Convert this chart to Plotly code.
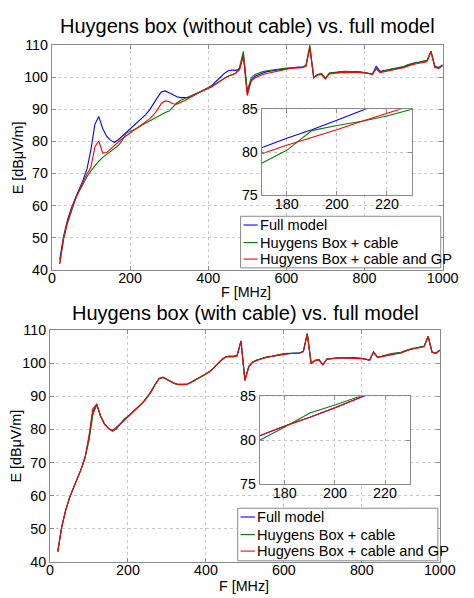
import plotly.graph_objects as go

# Frequency grid (MHz) shared by every series
freq_mhz = list(range(20, 1001, 10))

# Full model field strength, dBuV/m
full_model = [
    43.2, 50.5, 55.5, 59.3, 62.3, 65.0, 68.0, 71.5, 77.5, 85.3,
    87.7, 84.0, 81.6, 80.3, 79.7, 80.5, 81.6, 82.6, 83.7, 84.8,
    85.9, 87.0, 88.3, 89.8, 91.5, 93.6, 95.4, 95.7, 95.1, 94.4,
    93.9, 93.6, 93.5, 93.6, 94.1, 94.7, 95.3, 96.0, 96.7, 97.5,
    98.5, 99.8, 101.0, 101.9, 102.2, 102.1, 102.4, 106.8, 95.0, 99.0,
    100.3, 100.9, 101.3, 101.7, 101.9, 102.1, 102.4, 102.6, 102.8, 102.9,
    103.0, 103.1, 103.1, 103.6, 109.0, 99.9, 100.8, 101.1, 99.6, 101.2,
    101.4, 101.5, 101.6, 101.6, 101.7, 101.7, 101.7, 101.6, 101.5, 101.2,
    100.9, 103.4, 101.8, 102.0, 102.3, 102.6, 102.8, 103.0, 103.1, 103.6,
    104.1, 104.4, 104.6, 104.8, 105.1, 108.1, 103.4, 103.0, 103.9,
]

# Huygens box without cable: box + cable
nocable_box_cable = [
    41.8, 49.5, 54.5, 58.5, 61.8, 64.5, 66.8, 69.0, 70.8, 72.4,
    73.8, 75.0, 76.0, 76.8, 77.8, 78.7, 80.2, 82.5, 83.1, 83.6,
    84.2, 85.0, 85.7, 86.4, 87.1, 87.8, 88.5, 89.0, 89.4, 90.7,
    92.0, 92.8, 93.3, 94.0, 94.5, 95.0, 95.5, 96.1, 96.6, 97.3,
    98.0, 98.8, 99.6, 100.3, 100.7, 101.2, 103.0, 108.0, 95.8, 99.8,
    100.8, 101.3, 101.7, 102.0, 102.2, 102.4, 102.5, 102.7, 102.8, 102.9,
    103.0, 103.0, 103.0, 103.5, 110.0, 99.9, 100.8, 101.0, 99.6, 101.3,
    101.5, 101.6, 101.7, 101.8, 101.8, 101.8, 101.7, 101.6, 101.4, 101.1,
    100.9, 102.8, 101.6, 101.9, 102.3, 102.6, 102.8, 103.0, 103.3, 103.8,
    104.2, 104.5, 104.7, 104.9, 105.2, 108.0, 103.2, 102.8, 103.6,
]

# Huygens box without cable: box + cable and ground plane
nocable_box_cable_gp = [
    41.9, 50.0, 55.0, 59.0, 62.0, 64.8, 67.4, 69.8, 72.0, 78.3,
    80.1, 76.4, 76.5, 77.6, 78.8, 79.8, 80.8, 81.7, 82.6, 83.6,
    84.5, 85.4, 86.2, 87.0, 88.2, 89.8, 91.8, 92.6, 92.3, 91.7,
    91.6, 92.1, 92.7, 93.4, 94.1, 94.8, 95.4, 95.9, 96.4, 97.0,
    97.8, 98.7, 99.5, 100.2, 100.7, 101.1, 102.2, 106.6, 94.2, 98.8,
    99.8, 100.4, 100.8, 101.1, 101.4, 101.7, 102.0, 102.3, 102.5, 102.7,
    102.8, 102.8, 102.9, 103.3, 109.4, 99.8, 100.6, 100.8, 99.4, 101.0,
    101.2, 101.3, 101.4, 101.4, 101.5, 101.5, 101.5, 101.4, 101.3, 101.1,
    100.8, 102.6, 101.4, 101.7, 102.0, 102.3, 102.5, 102.7, 102.9, 103.4,
    103.8, 104.1, 104.3, 104.5, 104.8, 107.9, 103.0, 102.7, 103.5,
]

# Huygens box with cable: box + cable
cable_box_cable = [
    43.0, 50.3, 55.3, 59.2, 62.2, 65.0, 68.0, 71.5, 76.5, 84.4,
    87.4, 84.0, 81.6, 80.4, 79.4, 80.0, 81.5, 83.1, 84.0, 85.0,
    86.0, 87.1, 88.4, 89.9, 91.6, 93.7, 95.3, 95.7, 95.1, 94.3,
    93.8, 93.5, 93.5, 93.6, 94.2, 94.8, 95.4, 96.1, 96.8, 97.6,
    98.6, 99.9, 101.1, 101.9, 102.1, 102.0, 102.3, 106.7, 94.8, 99.0,
    100.4, 101.0, 101.4, 101.8, 102.0, 102.2, 102.5, 102.7, 102.9, 103.0,
    103.1, 103.1, 103.1, 103.6, 108.9, 100.0, 100.9, 101.1, 99.6, 101.3,
    101.5, 101.6, 101.7, 101.7, 101.7, 101.7, 101.7, 101.6, 101.5, 101.3,
    101.0, 103.3, 101.9, 102.1, 102.5, 102.8, 103.0, 103.2, 103.3, 103.8,
    104.2, 104.5, 104.7, 104.9, 105.2, 108.2, 103.4, 103.1, 104.0,
]

# Huygens box with cable: box + cable and ground plane
cable_box_cable_gp = [
    43.0, 50.5, 55.5, 59.3, 62.3, 65.0, 68.0, 71.5, 78.0, 86.3,
    87.6, 84.0, 81.6, 80.3, 79.6, 80.5, 81.6, 82.6, 83.7, 84.8,
    85.9, 87.0, 88.3, 89.8, 91.5, 93.6, 95.4, 95.8, 95.1, 94.4,
    93.9, 93.6, 93.5, 93.6, 94.1, 94.7, 95.3, 96.0, 96.7, 97.5,
    98.5, 99.8, 101.0, 101.8, 102.0, 101.9, 102.2, 106.6, 94.7, 98.9,
    100.3, 100.9, 101.3, 101.7, 101.9, 102.1, 102.4, 102.6, 102.8, 102.9,
    103.0, 103.0, 103.0, 103.5, 108.9, 99.8, 100.8, 101.0, 99.5, 101.2,
    101.4, 101.5, 101.6, 101.6, 101.6, 101.6, 101.6, 101.5, 101.4, 101.2,
    100.9, 103.4, 101.8, 102.0, 102.3, 102.6, 102.8, 103.0, 103.1, 103.6,
    104.0, 104.3, 104.5, 104.7, 105.0, 108.2, 103.3, 103.0, 103.9,
]

series_names = ["Full model", "Huygens Box + cable", "Hugyens Box + cable and GP"]
series_colors = ["#0000ff", "#008000", "#ff0000"]
panel_titles = ["Huygens box (without cable) vs. full model",
                "Huygens box (with cable) vs. full model"]
x_label = "F [MHz]"
y_label = "E [dB\u03bcV/m]"

W, H = 474, 598
FONT = "Liberation Sans, Arial, sans-serif"


def fx(px):
    return px / W


def fy(py):
    return 1 - py / H


fig = go.Figure()

panels = [
    # (main x, main y, inset x, inset y, series)
    ("x", "y", "x3", "y3", [full_model, nocable_box_cable, nocable_box_cable_gp]),
    ("x2", "y2", "x4", "y4", [full_model, cable_box_cable, cable_box_cable_gp]),
]
for mx, my, ix, iy, data in panels:
    for xa, ya in ((mx, my), (ix, iy)):
        for name, color, vals in zip(series_names, series_colors, data):
            fig.add_trace(go.Scatter(
                x=freq_mhz, y=vals, mode="lines", name=name,
                line=dict(color=color, width=1.1),
                xaxis=xa, yaxis=ya, showlegend=False, hoverinfo="skip",
            ))

axis_common = dict(
    showline=True, mirror="ticks", linecolor="#8a8a8a", linewidth=1,
    ticks="inside", ticklen=4, tickcolor="#8a8a8a",
    showgrid=True, gridcolor="#c8c8c8", griddash="dot", gridwidth=1,
    zeroline=False, tickfont=dict(family=FONT, size=14.3, color="black"),
)

main_x = dict(range=[0, 1000], tick0=0, dtick=200, ticklabelstandoff=-5, **axis_common)
main_y = dict(range=[40, 110], tick0=40, dtick=10, **axis_common)
inset_x = dict(range=[170, 230], tick0=180, dtick=20, ticklabelstandoff=-4, **axis_common)
inset_y = dict(range=[75, 85], tick0=75, dtick=5, **axis_common)

fig.update_layout(
    width=W, height=H,
    margin=dict(l=0, r=0, t=0, b=0),
    paper_bgcolor="white", plot_bgcolor="white",
    showlegend=False,
    xaxis=dict(domain=[fx(50), fx(458)], anchor="y", **main_x),
    yaxis=dict(domain=[fy(269), fy(38)], anchor="x", **main_y),
    xaxis2=dict(domain=[fx(48), fx(455)], anchor="y2", **main_x),
    yaxis2=dict(domain=[fy(569), fy(331)], anchor="x2", **main_y),
    xaxis3=dict(domain=[fx(269), fx(426)], anchor="y3", **inset_x),
    yaxis3=dict(domain=[fy(192), fy(104)], anchor="x3", **inset_y),
    xaxis4=dict(domain=[fx(267), fx(424)], anchor="y4", **inset_x),
    yaxis4=dict(domain=[fy(489), fy(399)], anchor="x4", **inset_y),
)

annotations = []
shapes = []

# Titles and axis labels
for title, cx, cy in ((panel_titles[0], 254, 19), (panel_titles[1], 252, 313)):
    annotations.append(dict(text=title, x=fx(cx), y=fy(cy), xref="paper", yref="paper",
                            xanchor="center", yanchor="middle", showarrow=False,
                            font=dict(family=FONT, size=20, color="black")))
for cx, cy in ((253, 292), (251, 594)):
    annotations.append(dict(text=x_label, x=fx(cx), y=fy(cy), xref="paper", yref="paper",
                            xanchor="center", yanchor="middle", showarrow=False,
                            font=dict(family=FONT, size=14.3, color="black")))
for cx, cy in ((15, 154), (13, 450)):
    annotations.append(dict(text=y_label, x=fx(cx), y=fy(cy), xref="paper", yref="paper",
                            xanchor="center", yanchor="middle", showarrow=False, textangle=-90,
                            font=dict(family=FONT, size=14.3, color="black")))

# Legend boxes (MATLAB style, short line samples)
legend_boxes = [
    dict(x0=247, x1=456, y0=214, y1=267, rows=[223, 241, 258], lx0=250, lx1=265, tx=265),
    dict(x0=244, x1=453, y0=514, y1=568, rows=[523, 541, 558], lx0=247, lx1=262, tx=262),
]
for box in legend_boxes:
    shapes.append(dict(type="rect", xref="paper", yref="paper", layer="above",
                       x0=fx(box["x0"]), x1=fx(box["x1"]), y0=fy(box["y1"]), y1=fy(box["y0"]),
                       line=dict(color="#8a8a8a", width=1), fillcolor="white"))
    for name, color, ry in zip(series_names, series_colors, box["rows"]):
        shapes.append(dict(type="line", xref="paper", yref="paper", layer="above",
                           x0=fx(box["lx0"]), x1=fx(box["lx1"]), y0=fy(ry), y1=fy(ry),
                           line=dict(color=color, width=1.1)))
        annotations.append(dict(text=name, x=fx(box["tx"]), y=fy(ry), xref="paper", yref="paper",
                                xanchor="left", yanchor="middle", showarrow=False,
                                font=dict(family=FONT, size=14.6, color="black")))

fig.update_layout(annotations=annotations, shapes=shapes)

fig.write_html("out.html")
